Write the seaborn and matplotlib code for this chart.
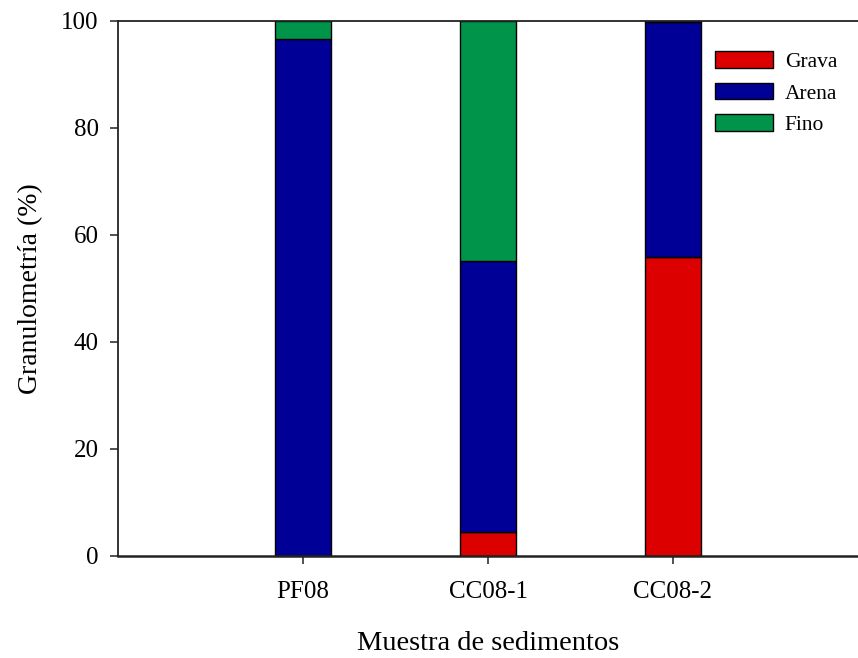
import numpy as np
import pandas as pd
import matplotlib
matplotlib.use("Agg")
import matplotlib.pyplot as plt
import seaborn as sns
from matplotlib.patches import Patch

# Sample names and grain-size fractions (%)
muestras = ["PF08", "CC08-1", "CC08-2"]
grava = [0.0, 4.4, 55.9]
arena = [96.6, 50.8, 43.8]
fino = [3.4, 44.8, 0.3]

fracciones = ["Grava", "Arena", "Fino"]
colores = ["#dd0000", "#000096", "#00944a"]

sns.set_theme(style="white")
plt.rcParams["font.family"] = ["Liberation Serif", "DejaVu Serif"]
plt.rcParams["text.color"] = "black"
plt.rcParams["axes.labelcolor"] = "black"
plt.rcParams["xtick.color"] = "black"
plt.rcParams["ytick.color"] = "black"

df = pd.DataFrame({"muestra": muestras, "Grava": grava, "Arena": arena, "Fino": fino})

fig = plt.figure(figsize=(8.58, 6.58), dpi=100)
ax = fig.add_axes([118 / 858, 102 / 658, 740 / 858, 535.3 / 658])

# Stack each fraction on top of the previous ones
base = np.zeros(len(muestras))
for frac, col in zip(fracciones, colores):
    sns.barplot(data=df, x="muestra", y=frac, order=muestras, color=col,
                width=0.30, bottom=base.copy(), edgecolor="black",
                linewidth=1.0, saturation=1, ax=ax, errorbar=None)
    base += df[frac].to_numpy()

ax.set_xlim(-1, 3)
ax.set_ylim(0, 100)
ax.set_yticks([0, 20, 40, 60, 80, 100])
ax.set_xlabel("Muestra de sedimentos", fontsize=20.5, labelpad=20)
ax.set_ylabel("Granulometría (%)", fontsize=20, labelpad=13)
ax.tick_params(axis="both", labelsize=18, direction="out", length=6,
               width=1.2, color="#333333", left=True, bottom=True)
ax.tick_params(axis="y", pad=8)
ax.tick_params(axis="x", pad=12)

for side in ["left", "bottom", "top"]:
    ax.spines[side].set_visible(True)
    ax.spines[side].set_color("#222222")
ax.spines["left"].set_linewidth(1.3)
ax.spines["bottom"].set_linewidth(1.8)
ax.spines["top"].set_linewidth(1.3)
ax.spines["right"].set_visible(False)

handles = [Patch(facecolor=c, edgecolor="black", linewidth=1.0) for c in colores]
ax.legend(handles, fracciones, loc="upper right", bbox_to_anchor=(0.998, 0.979),
          frameon=False, fontsize=15.5, handlelength=2.7, handleheight=0.8,
          labelspacing=0.5, handletextpad=0.55)

fig.savefig("out.png", dpi=100)
